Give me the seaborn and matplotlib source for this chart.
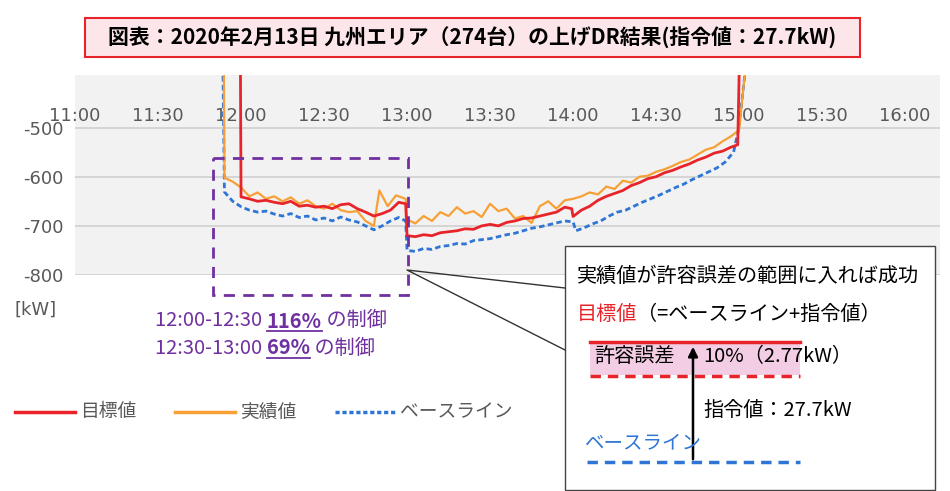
import matplotlib
matplotlib.use("Agg")
import matplotlib.pyplot as plt
import seaborn as sns
from matplotlib.patches import Rectangle

plt.rcParams["font.family"] = "Noto Sans CJK JP"

# minutes after 11:00
red_t = [59.8, 60, 63, 66, 69, 72, 75, 78, 81, 84, 87, 90, 93, 96, 99, 102, 105, 108, 111, 114, 117, 119.5,
         120, 123, 126, 129, 132, 135, 138, 141, 144, 147, 150, 153, 156, 159, 162, 165, 168, 171, 174, 177,
         179.5, 180, 183, 186, 189, 192, 195, 198, 201, 204, 207, 210, 213, 216, 219, 222, 225, 228, 231, 234,
         237, 239.5, 240]
red_v = [-395, -641, -645, -650, -648, -652, -655, -650, -660, -658, -662, -660, -665, -657, -655, -665, -672,
         -680, -675, -668, -652, -655,
         -720, -722, -718, -720, -714, -712, -710, -706, -707, -700, -697, -700, -693, -690, -685, -684, -680,
         -676, -672, -662,
         -665, -681, -668, -660, -648, -640, -634, -628, -618, -612, -604, -600, -592, -587, -580, -574, -566,
         -560, -552, -548, -540, -535, -395]

org_t = [53.8, 54, 57, 60, 63, 66, 69, 72, 75, 78, 81, 84, 87, 90, 93, 96, 99, 102, 105, 108, 110, 113, 116,
         119.5, 120, 123, 126, 129, 132, 135, 138, 141, 144, 147, 150, 153, 156, 159, 162, 165, 168, 171, 174,
         177, 180, 183, 186, 189, 192, 195, 198, 201, 204, 207, 210, 213, 216, 219, 222, 225, 228, 231, 234,
         237, 240, 242]
org_v = [-395, -602, -610, -622, -640, -632, -645, -640, -650, -642, -655, -648, -660, -665, -655, -668, -672,
         -670, -690, -700, -628, -660, -638, -645,
         -687, -695, -680, -690, -672, -680, -662, -675, -670, -682, -655, -670, -665, -685, -680, -694, -660,
         -650, -665, -648, -645, -640, -632, -636, -620, -625, -608, -612, -600, -598, -590, -585, -578, -570,
         -565, -555, -545, -540, -528, -518, -505, -395]

blu_t = [53.5, 54, 57, 60, 63, 66, 69, 72, 75, 78, 81, 84, 87, 90, 93, 96, 99, 102, 105, 108, 111, 114, 117,
         119.5, 120, 123, 126, 129, 132, 135, 138, 141, 144, 147, 150, 153, 156, 159, 162, 165, 168, 171, 174,
         177, 180, 181, 184, 187, 190, 193, 196, 199, 202, 205, 208, 211, 214, 217, 220, 223, 226, 229, 232,
         235, 238, 240, 242]
blu_v = [-395, -631, -650, -661, -668, -672, -670, -676, -680, -675, -683, -680, -688, -684, -690, -682, -688,
         -692, -700, -708, -700, -690, -683, -690,
         -750, -752, -746, -748, -742, -740, -736, -737, -730, -728, -726, -722, -718, -715, -710, -705, -702,
         -698, -694, -690, -692, -710, -704, -696, -690, -680, -672, -668, -660, -652, -645, -638, -630, -622,
         -615, -606, -598, -590, -582, -570, -550, -498, -395]

tick_labels = ["11:00", "11:30", "12:00", "12:30", "13:00", "13:30", "14:00", "14:30", "15:00", "15:30", "16:00"]
y_ticks = [-500, -600, -700, -800]
legend_names = ["目標値", "実績値", "ベースライン"]

W, H = 950, 491
fig = plt.figure(figsize=(9.5, 4.91), dpi=100)
ax = fig.add_axes([75 / W, 1 - 275 / H, 865 / W, 200 / H])
ax.set_facecolor("#f2f2f2")
gray = "#595959"
sns.lineplot(x=blu_t, y=blu_v, ax=ax, color="#2e75d6", lw=2, linestyle=(0, (2, 1.2)))
sns.lineplot(x=org_t, y=org_v, ax=ax, color="#f7a035", lw=1.6)
sns.lineplot(x=red_t, y=red_v, ax=ax, color="#e8242a", lw=2)
ax.set_xlim(0, 312.6)
ax.set_ylim(-800, -393)
ax.set_xticks([30 * i for i in range(11)])
ax.set_xticklabels(tick_labels, color=gray, fontsize=13, fontfamily="DejaVu Sans")
ax.xaxis.tick_top()
ax.tick_params(axis="x", length=0, pad=-36)
ax.set_yticks(y_ticks)
ax.set_yticklabels([str(v) for v in y_ticks], color=gray, fontsize=13, fontfamily="DejaVu Sans")
ax.tick_params(axis="y", length=0, pad=8)
ax.grid(axis="y", color="#d0d0d0", lw=1.2)
for s in ax.spines.values():
    s.set_visible(False)

ov = fig.add_axes([0, 0, 1, 1], facecolor="none")
ov.set_xlim(0, W)
ov.set_ylim(H, 0)
ov.axis("off")
fig.canvas.draw()
renderer = fig.canvas.get_renderer()


def seq(x, y, parts, size, underline_y=None):
    """Place text pieces one after another; parts = (text, color, bold, underline)."""
    for txt, col, bold, ul in parts:
        t = ov.text(x, y, txt, color=col, fontsize=size, va="center",
                    fontweight="bold" if bold else "normal")
        w = t.get_window_extent(renderer).width
        if ul:
            ov.plot([x, x + w], [y + 10, y + 10], color=col, lw=1.3)
        x += w
    return x


ov.add_patch(Rectangle((85, 18), 775, 39, facecolor="#fde6ea", edgecolor="#e8242a", lw=1.5))
ov.text(472, 37.5, "図表：2020年2月13日 九州エリア（274台）の上げDR結果(指令値：27.7kW)",
        ha="center", va="center", fontsize=15, fontweight="bold")

ov.text(15, 310, "[kW]", color=gray, fontsize=13, va="center", fontfamily="DejaVu Sans")

purple = "#7030a0"
ov.add_patch(Rectangle((213, 158), 195, 137, fill=False, edgecolor=purple, lw=2, linestyle=(0, (4, 3))))
seq(155, 321, [("12:00-12:30 ", purple, False, False), ("116%", purple, True, True),
               (" の制御", purple, False, False)], 14.5)
seq(155, 348, [("12:30-13:00 ", purple, False, False), ("69%", purple, True, True),
               (" の制御", purple, False, False)], 14.5)

# legend
ov.plot([15, 75], [412, 412], color="#e8242a", lw=2.5)
ov.text(80, 412, legend_names[0], color=gray, fontsize=13.5, va="center")
ov.plot([175, 235], [412, 412], color="#f7a035", lw=2.5)
ov.text(240, 412, legend_names[1], color=gray, fontsize=13.5, va="center")
ov.plot([335, 395], [412, 412], color="#2e75d6", lw=2.5, linestyle=(0, (1.2, 0.8)))
ov.text(400, 412, legend_names[2], color=gray, fontsize=13.5, va="center")

# callout
ov.plot([565, 407, 565], [288, 270, 350], color="#333333", lw=1)
ov.add_patch(Rectangle((565, 246), 370, 244, facecolor="white", edgecolor="#444444", lw=1))
ov.text(577, 276, "実績値が許容誤差の範囲に入れば成功", fontsize=14.5, va="center")
seq(577, 314, [("目標値", "#e8242a", False, False), ("（=ベースライン+指令値）", "black", False, False)], 14.5)
ov.add_patch(Rectangle((590, 342), 210, 33, facecolor="#f3cde4", edgecolor="none"))
ov.plot([590, 800], [342, 342], color="#e8242a", lw=2.5)
ov.plot([590, 800], [376, 376], color="#e8242a", lw=2.5, linestyle=(0, (3, 2)))
ov.text(594, 357, "許容誤差", fontsize=14.5, va="center")
ov.text(703, 357, "10%（2.77kW）", fontsize=14.5, va="center")
ov.annotate("", xy=(693, 344), xytext=(693, 462),
            arrowprops=dict(arrowstyle="-|>", color="black", lw=1.8, mutation_scale=14))
ov.text(703, 410, "指令値：27.7kW", fontsize=14.5, va="center")
ov.text(585, 443, "ベースライン", color="#2e75d6", fontsize=14, va="center")
ov.plot([587, 800], [462, 462], color="#2e75d6", lw=2.5, linestyle=(0, (3, 2)))

fig.savefig("out.png", dpi=100)
